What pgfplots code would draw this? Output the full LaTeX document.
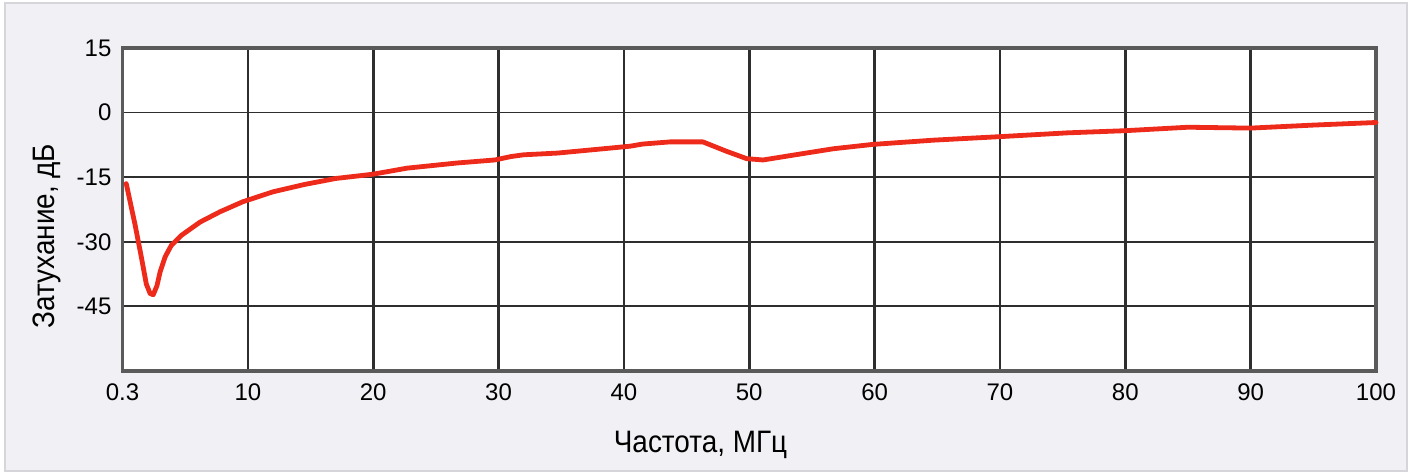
\documentclass[border=0pt]{standalone}
\usepackage{fontspec}
\setmainfont{Liberation Sans}
\newfontfamily\labelfont[FakeStretch=0.9]{Liberation Sans}
\usepackage{pgfplots}
\pgfplotsset{compat=1.18}
\definecolor{bgc}{HTML}{F1F1F5}
\definecolor{bordc}{HTML}{D6D6DA}
\definecolor{axc}{HTML}{5A5A5A}
\definecolor{gridc}{HTML}{2E2E2E}
\definecolor{curvec}{HTML}{EE2A1B}
\begin{document}
\begin{tikzpicture}
\path[use as bounding box] (-61.25pt,-52.5pt) rectangle (646.25pt,185.5pt);
\draw[fill=bgc, draw=bordc, line width=0.8pt] (-58.75pt,-50pt) rectangle (642.25pt,184pt);
\begin{axis}[
  at={(0pt,0pt)}, anchor=south west,
  scale only axis, width=626.75pt, height=161.5pt,
  xmin=0, xmax=100, ymin=-60, ymax=15,
  xtick={0,10,20,30,40,50,60,70,80,90,100},
  xticklabels={0.3,10,20,30,40,50,60,70,80,90,100},
  ytick={-45,-30,-15,0,15},
  axis background/.style={fill=white},
  axis line style={draw=axc, line width=1.6pt},
  major tick length=0pt,
  grid=major,
  x grid style={draw=gridc, line width=1.3pt},
  y grid style={draw=gridc, line width=0.9pt},
  tick label style={font=\fontsize{12}{13}\selectfont},
  /pgf/number format/assume math mode=true,
  xticklabel style={yshift=-3pt},
  yticklabel style={xshift=-2pt},
  clip=false,
]
\addplot[color=curvec, line width=2.4pt, line join=round, line cap=round] coordinates {
(0.3,-16.5) (1.0,-26.0) (1.5,-33.5) (1.9,-39.8) (2.2,-42.0) (2.45,-42.3) (2.75,-40.2)
(3.0,-37.0) (3.4,-33.5) (3.9,-30.8) (4.7,-28.5) (6.2,-25.4) (7.8,-23.0)
(9.6,-20.7) (12,-18.4) (14.5,-16.7) (17,-15.3) (20,-14.3) (22.7,-12.9)
(26.7,-11.7) (29.7,-11.0) (31.0,-10.2) (32.0,-9.8) (34.7,-9.4) (38.7,-8.3) (40.5,-7.8)
(41.5,-7.3) (43.7,-6.8) (46.3,-6.8) (48.2,-9.0) (49.8,-10.7) (51.1,-11.0)
(54.1,-9.6) (56.7,-8.4) (59.8,-7.4) (64.7,-6.4) (69.9,-5.6) (75.4,-4.7)
(80,-4.2) (85,-3.4) (90,-3.6) (95,-2.9) (100,-2.3)
};
\end{axis}
\node[anchor=base, font=\labelfont\fontsize{15.5}{17}\selectfont] at (289pt,-41pt) {Частота, МГц};
\node[rotate=90, anchor=base, font=\labelfont\fontsize{15.5}{17}\selectfont] at (-33.75pt,67.5pt) {Затухание, дБ};
\end{tikzpicture}
\end{document}
